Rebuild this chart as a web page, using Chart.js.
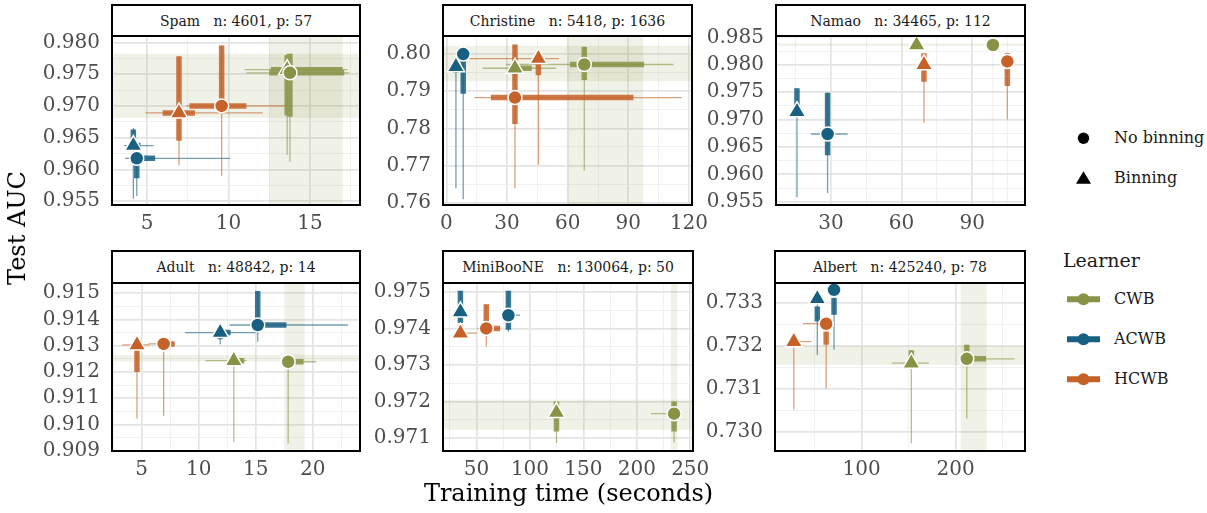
<!DOCTYPE html>
<html>
<head>
<meta charset="utf-8">
<script src="https://cdn.jsdelivr.net/npm/chart.js@4.4.0/dist/chart.umd.min.js"></script>
<style>
  body { margin: 0; background: #fff; width: 1207px; height: 513px; position: relative; overflow: hidden; font-family: "DejaVu Serif", serif; }
  canvas { position: absolute; }
  .strip { position: absolute; box-sizing: border-box; border: 2px solid #000; background: #fff; font-size: 14px; color: #1a1a1a; white-space: pre; display: flex; align-items: center; justify-content: center; }
  .txt { position: absolute; white-space: pre; color: #1a1a1a; }
</style>
</head>
<body>
<script>
// ---- data ----
const panelNames = ["Spam", "Christine", "Namao", "Adult", "MiniBooNE", "Albert"];
const panelInfo = ["n: 4601, p: 57", "n: 5418, p: 1636", "n: 34465, p: 112", "n: 48842, p: 14", "n: 130064, p: 50", "n: 425240, p: 78"];
const learners = ["CWB", "ACWB", "HCWB"];
const binnings = ["No binning", "Binning"];

// learner, binning (0 no / 1 yes), time, auc, time q1, q3, time min, max, auc q1, q3, auc min, max
const spam = [
  ["CWB", 0, 13.77, 0.9752, 12.5, 17.1, 11.1, 17.4, 0.9683, 0.9782, 0.9612, 0.9782],
  ["CWB", 1, 13.6, 0.9757, 12.6, 17.0, 11.0, 17.3, 0.9685, 0.9780, 0.9623, 0.9782],
  ["ACWB", 0, 4.37, 0.96175, 4.3, 5.5, 3.65, 10.1, 0.9586, 0.9618, 0.9558, 0.9618],
  ["ACWB", 1, 4.16, 0.96375, 4.0, 4.6, 3.6, 5.4, 0.9640, 0.9663, 0.9554, 0.9665],
  ["HCWB", 0, 9.58, 0.9700, 7.6, 11.1, 7.4, 13.6, 0.9697, 0.9795, 0.9590, 0.9795],
  ["HCWB", 1, 6.96, 0.9689, 5.96, 7.94, 4.9, 12.1, 0.9645, 0.9778, 0.9606, 0.9778]
];
const christine = [
  ["CWB", 0, 68.2, 0.7972, 61.1, 97.8, 29.5, 112.3, 0.7930, 0.8020, 0.7686, 0.8020],
  ["CWB", 1, 33.9, 0.7962, 32, 42.2, 17.9, 54.2, 0.7955, 0.7975, 0.7940, 0.7990],
  ["ACWB", 0, 8.3, 0.8000, 7, 9.5, 6, 10, 0.7893, 0.8000, 0.7609, 0.8000],
  ["ACWB", 1, 4.7, 0.7966, 4, 5.5, 3.5, 6, 0.7950, 0.7975, 0.7639, 0.7975],
  ["HCWB", 0, 33.9, 0.7883, 22, 92.5, 13.8, 116.4, 0.7812, 0.8026, 0.7639, 0.8026],
  ["HCWB", 1, 45.5, 0.7988, 44, 47, 6.7, 55.7, 0.7943, 0.8002, 0.7702, 0.8002]
];
const namao = [
  ["CWB", 0, 98.8, 0.9836, 98.5, 99.1, 98.2, 99.4, 0.9835, 0.9837, 0.9834, 0.9838],
  ["CWB", 1, 66.4, 0.9836, 66.1, 66.7, 65.8, 67.0, 0.9835, 0.9837, 0.9834, 0.9838],
  ["ACWB", 0, 28.6, 0.96736, 27, 30, 21.5, 37.1, 0.9635, 0.9749, 0.9566, 0.9749],
  ["ACWB", 1, 15.6, 0.97142, 14.8, 16.4, 14, 17.5, 0.9717, 0.9757, 0.9558, 0.9757],
  ["HCWB", 0, 104.9, 0.9806, 104.5, 105.3, 104, 105.8, 0.9761, 0.9821, 0.9700, 0.9822],
  ["HCWB", 1, 69.5, 0.9800, 69, 70, 68.5, 70.5, 0.9769, 0.9821, 0.9694, 0.9822]
];
const adult = [
  ["CWB", 0, 17.85, 0.91239, 17.8, 19.2, 17.5, 20.3, 0.91235, 0.91245, 0.90928, 0.91245],
  ["CWB", 1, 13.08, 0.91243, 13.1, 14.0, 10.6, 14.2, 0.91238, 0.91248, 0.90934, 0.91250],
  ["ACWB", 0, 15.18, 0.91379, 15.2, 17.7, 12.7, 23.1, 0.91379, 0.91509, 0.91315, 0.91509],
  ["ACWB", 1, 11.89, 0.91350, 11.5, 12.8, 8.8, 15.3, 0.91325, 0.91360, 0.91306, 0.91360],
  ["HCWB", 0, 6.93, 0.91307, 7.3, 7.9, 5.6, 7.9, 0.91300, 0.91312, 0.91033, 0.91312],
  ["HCWB", 1, 4.59, 0.91303, 4.4, 4.8, 3.3, 5.7, 0.91200, 0.91300, 0.91023, 0.91310]
];
const miniboone = [
  ["CWB", 0, 234.9, 0.97167, 234, 236, 213.3, 236, 0.97118, 0.97200, 0.97088, 0.97200],
  ["CWB", 1, 124.8, 0.97170, 124, 126, 123, 127, 0.97118, 0.97200, 0.97087, 0.97200],
  ["ACWB", 0, 79.8, 0.97436, 79, 81, 79, 90.7, 0.97396, 0.97503, 0.97390, 0.97503],
  ["ACWB", 1, 34.9, 0.97445, 34, 36, 33.5, 36.5, 0.97415, 0.97503, 0.97400, 0.97503],
  ["HCWB", 0, 59.1, 0.97400, 59, 72, 50.4, 72, 0.97400, 0.97466, 0.97350, 0.97466],
  ["HCWB", 1, 34.9, 0.97387, 34, 36, 34, 50.4, 0.97387, 0.97410, 0.97370, 0.97410]
];
const albert = [
  ["CWB", 0, 211.8, 0.73170, 211.8, 232.2, 205, 262.5, 0.73170, 0.73203, 0.73031, 0.73203],
  ["CWB", 1, 152.8, 0.73160, 152, 154, 132, 171.4, 0.73160, 0.73190, 0.72973, 0.73190],
  ["ACWB", 0, 70.6, 0.73331, 69.5, 71.5, 69, 72, 0.73273, 0.73312, 0.73191, 0.73331],
  ["ACWB", 1, 52.8, 0.73310, 52, 53.6, 51.5, 54, 0.73257, 0.73292, 0.73179, 0.73310],
  ["HCWB", 0, 62.2, 0.73252, 61.5, 63, 37.4, 63, 0.73203, 0.73234, 0.73101, 0.73270],
  ["HCWB", 1, 27.8, 0.73210, 27, 29, 27, 46.4, 0.73200, 0.73220, 0.73052, 0.73225]
];
const panelRows = [spam, christine, namao, adult, miniboone, albert];

// shaded CWB ranges per panel: time lo, time hi, auc lo, auc hi
const cwbBands = [
  [12.5, 17.0, 0.9681, 0.9782],
  [60, 97.4, 0.7927, 0.8022],
  [98.6, 99.0, 0.9834, 0.9839],
  [17.6, 19.3, 0.9124, 0.91265],
  [232, 238, 0.97123, 0.97205],
  [205.4, 233, 0.73156, 0.7320]
];

const xMajorTicks = [[5, 10, 15], [0, 30, 60, 90, 120], [30, 60, 90], [5, 10, 15, 20], [50, 100, 150, 200, 250], [100, 200]];
const yMajorTicks = [
  [0.955, 0.96, 0.965, 0.97, 0.975, 0.98],
  [0.76, 0.77, 0.78, 0.79, 0.8],
  [0.955, 0.96, 0.965, 0.97, 0.975, 0.98, 0.985],
  [0.909, 0.91, 0.911, 0.912, 0.913, 0.914, 0.915],
  [0.971, 0.972, 0.973, 0.974, 0.975],
  [0.73, 0.731, 0.732, 0.733]
];
const yDecimals = [3, 2, 3, 3, 3, 3];
const xLimits = [[2.85, 18.07], [-1.7, 121.5], [6.7, 112.4], [2.4, 24.15], [18.6, 252.6], [7.8, 273.7]];
const yLimits = [[0.9544, 0.9810], [0.75937, 0.80488], [0.9544, 0.98524], [0.90899, 0.91539], [0.97065, 0.97524], [0.72955, 0.73347]];

// ---- layout / style ----
const plotBoxes = [[112, 36, 360, 205], [443, 36, 692, 205], [776, 36, 1025, 205], [112, 283, 360, 451], [443, 283, 693, 451], [775, 283, 1025, 451]];
const stripTops = [4, 4, 4, 250, 250, 250];
const rgb = { CWB: "138,146,70", ACWB: "24,96,130", HCWB: "198,98,40" };
const AXIS_W = 110, AXIS_H = 40, PAD_TOP = 14, PAD_RIGHT = 25;

Chart.defaults.font.family = "DejaVu Serif";

function tickSet(major, lim) {
  const step = major[1] - major[0];
  const out = [];
  for (let v = major[0] - step; v <= major[major.length - 1] + step + 1e-9; v += step / 2) {
    const r = +v.toFixed(6);
    if (r >= lim[0] - 1e-9 && r <= lim[1] + 1e-9) out.push(r);
  }
  return out;
}
const isMajor = (major, v) => major.some(m => Math.abs(m - v) < (major[1] - major[0]) * 1e-3);

function segments(rows, learner, wide) {
  const pts = [];
  rows.filter(r => r[0] === learner).forEach(r => {
    const t = r[2], auc = r[3];
    const th = wide ? [r[4], r[5]] : [r[6], r[7]];
    const av = wide ? [r[8], r[9]] : [r[10], r[11]];
    pts.push({ x: th[0], y: auc }, { x: th[1], y: auc }, { x: th[1], y: null });
    pts.push({ x: t, y: av[0] }, { x: t, y: av[1] }, { x: t, y: null });
  });
  return pts;
}

// no extra room for edge tick labels: the chart area is fixed by the layout
const fixAxis = (s, size) => {
  if (s.isHorizontal()) s.height = size; else s.width = size;
  s.paddingTop = 0; s.paddingBottom = 0; s.paddingLeft = 0; s.paddingRight = 0;
};

const panelDecor = {
  id: "panelDecor",
  beforeDatasetsDraw(chart, args, opts) {
    const { ctx, chartArea: a, scales: { x, y } } = chart;
    const b = opts.band;
    ctx.save();
    ctx.fillStyle = "rgba(138,146,70,0.13)";
    const x0 = x.getPixelForValue(b[0]), x1 = x.getPixelForValue(b[1]);
    ctx.fillRect(x0, a.top, Math.max(1, x1 - x0), a.bottom - a.top);
    const y0 = y.getPixelForValue(b[3]), y1 = y.getPixelForValue(b[2]);
    ctx.fillRect(a.left, y0, a.right - a.left, Math.max(1, y1 - y0));
    ctx.restore();
  },
  afterDraw(chart) {
    const { ctx, chartArea: a } = chart;
    ctx.save();
    ctx.strokeStyle = "#000";
    ctx.lineWidth = 2;
    ctx.strokeRect(a.left, a.top, a.right - a.left, a.bottom - a.top);
    ctx.restore();
  }
};

panelNames.forEach((name, i) => {
  const box = plotBoxes[i];
  const rows = panelRows[i];

  const cv = document.createElement("canvas");
  cv.width = box[2] - box[0] + AXIS_W + PAD_RIGHT;
  cv.height = box[3] - box[1] + AXIS_H + PAD_TOP;
  cv.style.left = (box[0] - AXIS_W) + "px";
  cv.style.top = (box[1] - PAD_TOP) + "px";
  document.body.appendChild(cv);

  const strip = document.createElement("div");
  strip.className = "strip";
  strip.style.left = (box[0] - 1) + "px";
  strip.style.top = stripTops[i] + "px";
  strip.style.width = (box[2] - box[0] + 2) + "px";
  strip.style.height = (box[1] - stripTops[i] + 1) + "px";
  strip.textContent = name + "   " + panelInfo[i];
  document.body.appendChild(strip);

  const datasets = [];
  learners.forEach((l, li) => {
    datasets.push({
      data: segments(rows, l, false), showLine: true, pointRadius: 0,
      borderColor: `rgba(${rgb[l]},0.6)`, borderWidth: 1.3, order: 30 - li
    });
    datasets.push({
      data: segments(rows, l, true), showLine: true, pointRadius: 0,
      borderColor: `rgba(${rgb[l]},0.85)`, borderWidth: 5.5, order: 20 - li
    });
    binnings.forEach((b, bi) => {
      datasets.push({
        data: rows.filter(r => r[0] === l && r[1] === bi).map(r => ({ x: r[2], y: r[3] })),
        pointStyle: bi ? "triangle" : "circle",
        pointRadius: bi ? 10 : 7,
        backgroundColor: `rgb(${rgb[l]})`, borderColor: "#fff", borderWidth: 1.5,
        order: 10 - li * 2 + bi
      });
    });
  });

  const xMaj = xMajorTicks[i], yMaj = yMajorTicks[i];
  const gridOpts = major => ({
    lineWidth: c => (c.tick && isMajor(major, c.tick.value) ? 1.7 : 0.8),
    color: c => (c.tick && isMajor(major, c.tick.value) ? "#e4e4e4" : "#eeeeee"),
    drawTicks: false
  });

  new Chart(cv, {
    type: "scatter",
    data: { datasets },
    options: {
      responsive: false,
      animation: false,
      devicePixelRatio: 1,
      events: [],
      layout: { padding: { left: 0, right: PAD_RIGHT, top: PAD_TOP, bottom: 0 } },
      plugins: { legend: { display: false }, tooltip: { enabled: false }, panelDecor: { band: cwbBands[i] } },
      scales: {
        x: {
          type: "linear", min: xLimits[i][0], max: xLimits[i][1],
          afterBuildTicks: s => { s.ticks = tickSet(xMaj, xLimits[i]).map(v => ({ value: v })); },
          afterFit: s => fixAxis(s, AXIS_H),
          grid: gridOpts(xMaj),
          border: { display: false },
          ticks: {
            autoSkip: false, maxRotation: 0, padding: 7, color: "#4d4d4d", font: { size: 20 },
            callback: v => (isMajor(xMaj, v) ? String(Math.round(v)) : "")
          }
        },
        y: {
          type: "linear", min: yLimits[i][0], max: yLimits[i][1],
          afterBuildTicks: s => { s.ticks = tickSet(yMaj, yLimits[i]).map(v => ({ value: v })); },
          afterFit: s => fixAxis(s, AXIS_W),
          grid: gridOpts(yMaj),
          border: { display: false },
          ticks: {
            autoSkip: false, padding: 12, color: "#4d4d4d", font: { size: 20 },
            callback: v => (isMajor(yMaj, v) ? v.toFixed(yDecimals[i]) : "")
          }
        }
      }
    },
    plugins: [panelDecor]
  });
});

// axis titles
function addText(str, css) {
  const d = document.createElement("div");
  d.className = "txt";
  d.textContent = str;
  Object.assign(d.style, css);
  document.body.appendChild(d);
  return d;
}
addText("Training time (seconds)", { left: "112px", width: "913px", textAlign: "center", top: "479px", fontSize: "24px", lineHeight: "28px", color: "#000" });
addText("Test AUC", { left: "17px", top: "228px", fontSize: "24px", lineHeight: "28px", color: "#000", transform: "translate(-50%,-50%) rotate(-90deg)" });

// legend
const svgNS = "http://www.w3.org/2000/svg";
const svg = document.createElementNS(svgNS, "svg");
svg.setAttribute("width", "60");
svg.setAttribute("height", "300");
svg.style.position = "absolute";
svg.style.left = "1060px";
svg.style.top = "110px";
document.body.appendChild(svg);
function shape(tag, attrs) {
  const el = document.createElementNS(svgNS, tag);
  for (const k in attrs) el.setAttribute(k, attrs[k]);
  svg.appendChild(el);
}
const legendX = 23.5;
binnings.forEach((b, k) => {
  const cy = 28.3 + k * 40;
  if (k === 0) shape("circle", { cx: legendX, cy, r: 5.7, fill: "#000" });
  else shape("polygon", { points: `${legendX},${cy - 7} ${legendX + 7.5},${cy + 5.5} ${legendX - 7.5},${cy + 5.5}`, fill: "#000" });
  addText(b, { left: "1114px", top: (110 + cy - 10) + "px", fontSize: "16px", lineHeight: "20px" });
});
addText("Learner", { left: "1063px", top: "248px", fontSize: "19px", lineHeight: "24px" });
learners.forEach((l, k) => {
  const cy = 189.3 + k * 40;
  shape("line", { x1: 7, x2: 40, y1: cy, y2: cy, stroke: `rgb(${rgb[l]})`, "stroke-width": 6 });
  shape("circle", { cx: legendX, cy, r: 6, fill: `rgb(${rgb[l]})` });
  addText(l, { left: "1114px", top: (110 + cy - 10) + "px", fontSize: "16px", lineHeight: "20px" });
});
</script>
</body>
</html>
